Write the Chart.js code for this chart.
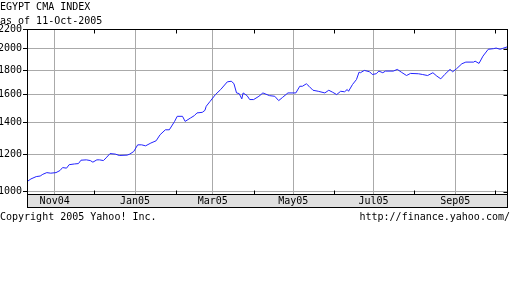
<!DOCTYPE html>
<html>
<head>
<meta charset="utf-8">
<script src="https://cdn.jsdelivr.net/npm/chart.js@4.4.1/dist/chart.umd.min.js"></script>
<style>
  body { margin: 0; background: #fff; }
  #wrap { position: relative; width: 512px; height: 288px; font: 10px "DejaVu Sans Mono", monospace; color: #000; }
  #wrap canvas { position: absolute; left: 0; top: 0; }
  .txt { position: absolute; line-height: 12px; white-space: pre; }
</style>
</head>
<body>
<div id="wrap">
  <canvas id="cmaChart" width="512" height="288"></canvas>
  <div class="txt" style="left:0;top:1px">EGYPT CMA INDEX</div>
  <div class="txt" style="left:0;top:15px">as of 11-Oct-2005</div>
  <div class="txt" style="left:0;top:211px">Copyright 2005 Yahoo! Inc.</div>
  <div class="txt" style="right:2px;top:211px">http://finance.yahoo.com/</div>
</div>
<script>
// days counted from the first day of the chart
const startDate = Date.UTC(2004, 9, 11);
const dayOffsets = [0,3,7,10,12,15,18,22,25,27,30,32,36,39,41,45,48,50,53,55,
    58,60,63,67,70,76,78,81,84,87,90,94,98,101,105,108,112,114,118,120,
    124,127,129,133,135,136,139,143,147,152,155,157,159,161,163,164,167,169,172,176,
    179,184,188,191,194,198,204,207,209,212,214,217,221,226,229,232,235,238,241,243,
    244,247,250,252,253,256,260,262,265,267,270,272,278,281,284,288,291,297,300,304,
    308,311,314,317,321,323,326,330,333,339,340,343,346,350,354,356,359,361,365];
const closes = [1050,1064,1076,1079,1088,1097,1094,1097,1108,1124,1121,1140,1144,1146,1165,1167,1163,1154,1167,1167,
    1163,1178,1203,1200,1192,1194,1200,1215,1255,1255,1249,1266,1280,1318,1350,1350,1406,1441,1441,1406,
    1429,1446,1465,1469,1483,1513,1550,1601,1641,1703,1708,1689,1614,1609,1568,1614,1593,1563,1563,1588,
    1614,1593,1588,1555,1580,1614,1614,1667,1667,1687,1667,1635,1627,1614,1635,1619,1601,1627,1623,1641,
    1627,1681,1722,1785,1780,1800,1788,1765,1771,1794,1780,1794,1794,1809,1785,1756,1774,1771,1765,1756,
    1780,1751,1728,1765,1809,1788,1815,1859,1874,1874,1883,1862,1929,1994,2000,2006,1994,2003,2020];
const yTicks = [1000, 1200, 1400, 1600, 1800, 2000, 2200];
const monthLabels = ['Nov04','Dec04','Jan05','Feb05','Mar05','Apr05','May05','Jun05','Jul05','Aug05','Sep05','Oct05'];
const majorMonths = ['Nov04','Jan05','Mar05','May05','Jul05','Sep05'];

const monthNames = ['Jan','Feb','Mar','Apr','May','Jun','Jul','Aug','Sep','Oct','Nov','Dec'];
const monthDays = monthLabels.map(l => {
    const m = monthNames.indexOf(l.slice(0, 3));
    const y = 2000 + parseInt(l.slice(3), 10);
    return Math.round((Date.UTC(y, m, 1) - startDate) / 864e5);
});
const labelAt = v => monthLabels[monthDays.indexOf(v)];
const isMajor = v => majorMonths.includes(labelAt(v));

const gridGray = '#aaaaaa';
const tickFont = { family: '"DejaVu Sans Mono", monospace', size: 10 };

// frame, label band and the little inside ticks
const framePlugin = {
    id: 'frame',
    beforeDraw(chart) {
        const { ctx, chartArea: a } = chart;
        ctx.save();
        ctx.fillStyle = '#e0e0e0';
        ctx.fillRect(a.left, a.bottom, a.right - a.left, 13);
        ctx.restore();
    },
    afterDraw(chart) {
        const { ctx, chartArea: a, scales } = chart;
        const l = Math.round(a.left) + 0.5, r = Math.round(a.right) - 0.5;
        const t = Math.round(a.top) + 0.5, b = Math.round(a.bottom) + 0.5;
        ctx.save();
        ctx.strokeStyle = '#000';
        ctx.lineWidth = 1;
        ctx.strokeRect(l, t, r - l, b - t);
        ctx.strokeRect(l, b, r - l, 13);
        ctx.beginPath();
        monthDays.forEach(v => {
            if (isMajor(v)) return;
            const x = Math.round(scales.x.getPixelForValue(v)) + 0.5;
            ctx.moveTo(x, t); ctx.lineTo(x, t + 4);
            ctx.moveTo(x, b); ctx.lineTo(x, b - 4);
        });
        yTicks.forEach(v => {
            const y = Math.round(scales.y.getPixelForValue(v)) + 0.5;
            ctx.moveTo(r, y); ctx.lineTo(r - 4, y);
        });
        ctx.stroke();
        ctx.restore();
    }
};

const chartElement = document.getElementById('cmaChart');
if (chartElement) {
    const ctx = chartElement.getContext('2d');
    new Chart(ctx, {
        type: 'line',
        data: {
            datasets: [{
                data: dayOffsets.map((d, i) => ({ x: d, y: closes[i] })),
                borderColor: '#2323ff',
                borderWidth: 1,
                pointRadius: 0,
                tension: 0
            }]
        },
        options: {
            responsive: false,
            animation: false,
            layout: { padding: { top: 29, right: 4, bottom: 80, left: 0 } },
            plugins: { legend: { display: false }, tooltip: { enabled: false } },
            scales: {
                x: {
                    type: 'linear',
                    min: 0,
                    max: 365,
                    bounds: 'data',
                    afterBuildTicks: s => { s.ticks = monthDays.map(v => ({ value: v })); },
                    afterFit: s => { s.height = 14; },
                    grid: {
                        color: c => (c.tick && isMajor(c.tick.value)) ? gridGray : 'rgba(0,0,0,0)',
                        drawTicks: false
                    },
                    border: { display: false },
                    ticks: {
                        autoSkip: false,
                        maxRotation: 0,
                        padding: 1,
                        color: '#000',
                        font: tickFont,
                        callback: v => isMajor(v) ? labelAt(v) : ''
                    }
                },
                y: {
                    type: 'logarithmic',
                    min: 989,
                    max: 2200,
                    bounds: 'data',
                    afterBuildTicks: s => { s.ticks = yTicks.map(v => ({ value: v })); },
                    afterFit: s => { s.width = 27; },
                    grid: { color: gridGray, tickColor: '#000', tickLength: 4 },
                    border: { display: false },
                    ticks: {
                        padding: 1,
                        color: '#000',
                        font: tickFont,
                        callback: v => String(v)
                    }
                }
            }
        },
        plugins: [framePlugin]
    });
}
</script>
</body>
</html>
